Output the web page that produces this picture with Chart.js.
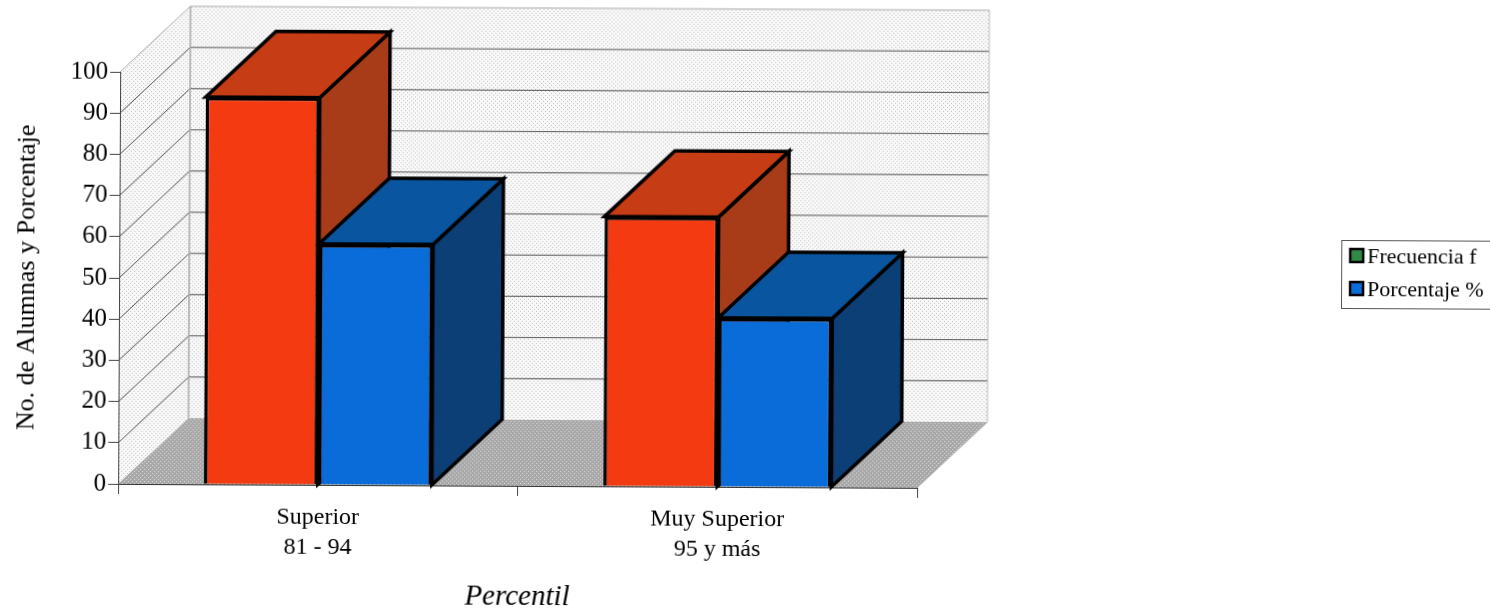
<!DOCTYPE html>
<html><head><meta charset="utf-8">
<style>html,body{margin:0;padding:0;background:#fff;overflow:hidden}canvas{display:block;transform:rotate(0.285deg);transform-origin:745px 305px}</style>
<script src="https://cdn.jsdelivr.net/npm/chart.js@4"></script></head>
<body><canvas id="c" width="1490" height="610"></canvas>
<script>
const categories = [["Superior","81 - 94"],["Muy Superior","95 y más"]];
const frecuencia = [94, 65.5];
const porcentaje = [58.5, 41];
const seriesNames = ["Frecuencia f","Porcentaje %"];
const barColors = ["#F33A10","#0A6CD8"];
const legendColors = ["#2F8A45","#0A6CD8"];
const topColors = ["#C63C14","#0A559F"];
const sideColors = ["#A83C18","#0C3F75"];
const DX = 70, DY = 66;
const SERIF = "'Liberation Serif','Times New Roman',serif";

function stipple(bg, dot, specs){
  const p = document.createElement('canvas'); p.width = 4; p.height = 4;
  const g = p.getContext('2d'); g.fillStyle = bg; g.fillRect(0,0,4,4);
  g.fillStyle = dot; specs.forEach(s => g.fillRect(s[0],s[1],1,1));
  return g.createPattern(p,'repeat');
}
function poly(ctx, pts, fill, stroke, lw){
  ctx.beginPath(); pts.forEach((p,i)=> i ? ctx.lineTo(p[0],p[1]) : ctx.moveTo(p[0],p[1])); ctx.closePath();
  if(fill){ctx.fillStyle=fill;ctx.fill();}
  if(stroke){ctx.strokeStyle=stroke;ctx.lineWidth=lw;ctx.lineJoin='miter';ctx.stroke();}
}
const box3d = {
  id:'box3d',
  beforeDraw(chart){
    const ctx = chart.ctx, y = chart.scales.y, a = chart.chartArea;
    const wall = stipple('#f8f8f8','#c4c4c4',[[0,0],[2,2]]);
    const floor = stipple('#a8a8a8','#dcdcdc',[[1,0],[3,2]]);
    const L=a.left,R=a.right,B=a.bottom,T=y.getPixelForValue(100);
    ctx.save();
    poly(ctx,[[L+DX,T-DY],[R+DX,T-DY],[R+DX,B-DY],[L+DX,B-DY]],wall);
    poly(ctx,[[L,T],[L+DX,T-DY],[L+DX,B-DY],[L,B]],wall);
    poly(ctx,[[L,B],[R,B],[R+DX,B-DY],[L+DX,B-DY]],floor);
    y.ticks.forEach(t=>{
      if(t.value===0) return;
      const py=y.getPixelForValue(t.value);
      ctx.lineWidth = 1; ctx.strokeStyle = t.value===100 ? '#aaa' : '#555';
      ctx.beginPath();ctx.moveTo(L,py);ctx.lineTo(L+DX,py-DY);ctx.lineTo(R+DX,py-DY);ctx.stroke();
    });
    ctx.strokeStyle='#aaa';ctx.lineWidth=1.5;
    ctx.beginPath();ctx.moveTo(L+DX,T-DY);ctx.lineTo(L+DX,B-DY);ctx.stroke();
    ctx.strokeStyle='#bbb';ctx.lineWidth=1;
    ctx.beginPath();ctx.moveTo(R+DX,T-DY);ctx.lineTo(R+DX,B-DY);ctx.lineTo(R,B);ctx.stroke();
    ctx.restore();
    const lg = chart.legend;
    lg.left=1339; lg.right=lg.left+lg.width; lg.top=232; lg.bottom=lg.top+lg.height;
    ctx.save();ctx.strokeStyle='#555';ctx.lineWidth=1;ctx.strokeRect(1341.5,237.5,160,68);ctx.restore();
  },
  beforeDatasetsDraw(chart){
    const ctx = chart.ctx;
    ctx.save();
    chart.data.datasets.forEach((ds,i)=>{
      chart.getDatasetMeta(i).data.forEach(b=>{
        const l=b.x-b.width/2,r=b.x+b.width/2,t=b.y,bt=b.base;
        poly(ctx,[[r,t],[r+DX,t-DY],[r+DX,bt-DY],[r,bt]],sideColors[i],'#000',3.5);
        poly(ctx,[[l,t],[l+DX,t-DY],[r+DX,t-DY],[r,t]],topColors[i],'#000',3.5);
      });
    });
    ctx.restore();
  },
  afterDraw(chart){
    const ctx = chart.ctx, lg = chart.legend;
    ctx.save();
    (lg.legendHitBoxes||[]).forEach((h,i)=>{
      ctx.fillStyle=legendColors[i];ctx.strokeStyle='#000';ctx.lineWidth=2.5;
      ctx.fillRect(lg.left+11,lg.top+11+i*33+3,13,13);
      ctx.strokeRect(lg.left+11,lg.top+11+i*33+3,13,13);
    });
    ctx.restore();
  }
};
new Chart(document.getElementById('c'),{
  type:'bar',
  data:{labels:categories,datasets:[
    {label:seriesNames[0],data:frecuencia,backgroundColor:barColors[0],borderColor:'#000',borderWidth:3.5},
    {label:seriesNames[1],data:porcentaje,backgroundColor:barColors[1],borderColor:'#000',borderWidth:3.5}
  ]},
  options:{
    responsive:false,animation:false,
    datasets:{bar:{categoryPercentage:0.571,barPercentage:1}},
    layout:{padding:{left:0,right:572,top:75,bottom:0}},
    plugins:{
      tooltip:{enabled:false},
      title:{display:false},
      legend:{display:true,position:'chartArea',align:'start',
        labels:{boxWidth:6,boxHeight:13,padding:11,color:'#000',font:{family:SERIF,size:22},
          generateLabels:()=>seriesNames.map((n,i)=>({text:n,fillStyle:'rgba(0,0,0,0)',strokeStyle:'rgba(0,0,0,0)',lineWidth:0,datasetIndex:i,fontColor:'#000'}))}}
    },
    scales:{
      x:{
        afterFit(s){s.height=123;},
        grid:{drawOnChartArea:false,drawTicks:true,tickLength:10,color:'#444',offset:true},
        border:{display:true,color:'#333',width:1},
        ticks:{color:'#000',padding:8,maxRotation:0,font:{family:SERIF,size:24,lineHeight:1.25}},
        title:{display:true,text:'Percentil',color:'#000',padding:{top:0,bottom:0},font:{family:SERIF,size:29,style:'italic',lineHeight:0.8}}
      },
      y:{
        min:0,max:100,
        afterFit(s){s.width=119;},
        grid:{drawOnChartArea:false,drawTicks:true,tickLength:10,color:'#444'},
        border:{display:true,color:'#444',width:1},
        ticks:{stepSize:10,color:'#000',padding:2,font:{family:SERIF,size:25}},
        title:{display:true,text:'No. de Alumnas y Porcentaje',color:'#000',padding:{top:12,bottom:0},font:{family:SERIF,size:26,lineHeight:1.2}}
      }
    }
  },
  plugins:[box3d]
});
</script></body></html>
